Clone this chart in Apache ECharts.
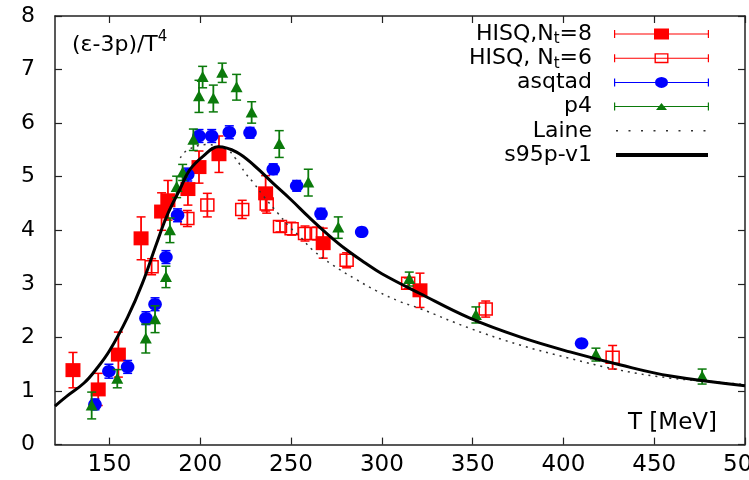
<!DOCTYPE html>
<html><head><meta charset="utf-8">
<script src="https://cdn.jsdelivr.net/npm/echarts@6/dist/echarts.min.js"></script>
<style>html,body{margin:0;padding:0;background:#fff}#c{width:749px;height:480px}</style>
</head><body><div id="c"></div>
<script>
// ---- data (T [MeV], value, error) ----
const xTicks = [150, 200, 250, 300, 350, 400, 450, 500];
const yTicks = [0, 1, 2, 3, 4, 5, 6, 7, 8];

const hisq8 = [[129.9,1.39,0.33],[143.8,1.03,0.3],[154.9,1.68,0.42],[167.4,3.85,0.4],[178.7,4.35,0.35],[182.2,4.56,0.37],[193.2,4.77,0.3],[199.3,5.18,0.3],[210.3,5.42,0.34],[236,4.69,0.33],[267.7,3.76,0.28],[321,2.88,0.32]];
const hisq6 = [[173.2,3.32,0.15],[192.9,4.22,0.15],[203.9,4.47,0.22],[223.1,4.39,0.17],[236.6,4.49,0.17],[243.9,4.07,0.1],[250.3,4.03,0.12],[257.7,3.94,0.14],[264.1,3.94,0.12],[280.6,3.44,0.14],[314.5,3.01,0.1],[357.2,2.53,0.15],[427.1,1.63,0.22]];
const asqtad = [[142,0.75,0.1],[149.7,1.37,0.13],[160,1.45,0.12],[170.1,2.36,0.12],[175.1,2.62,0.12],[181.1,3.5,0.12],[187.5,4.28,0.12],[193.1,5.04,0.12],[199.3,5.76,0.12],[206.3,5.76,0.12],[216,5.83,0.12],[227.4,5.82,0.1],[240.2,5.14,0.1],[253.1,4.83,0.1],[266.5,4.31,0.1],[288.9,3.97,0.08],[410,1.89,0.05]];
const p4 = [[140.2,0.73,0.25],[154.3,1.23,0.17],[170,1.98,0.27],[175.1,2.34,0.25],[181.1,3.13,0.2],[183.3,4.0,0.23],[187,4.81,0.2],[190.3,5.08,0.15],[196.2,5.69,0.2],[199.3,6.5,0.3],[201.3,6.86,0.2],[207.2,6.46,0.25],[212.1,6.94,0.18],[220,6.67,0.24],[228.3,6.2,0.2],[243.5,5.61,0.25],[259.5,4.89,0.25],[276,4.05,0.2],[315.1,3.09,0.13],[351.8,2.42,0.15],[417.9,1.68,0.12],[476.4,1.27,0.14]];
const laine = [[189,5.35],[193,5.5],[204,5.6],[215,5.5],[219,5.36],[222,5.22],[225,5.06],[229,4.9],[235,4.63],[243,4.31],[249,4.07],[255,3.88],[262,3.63],[273,3.35],[286,3.08],[297,2.87],[310,2.67],[321,2.54],[348.5,2.17],[376,1.86],[403.6,1.61],[431,1.39],[459,1.24],[477,1.19],[500,1.12]];
const s95p = [[120,0.72],[126.4,0.9],[136,1.15],[143,1.42],[150,1.75],[160,2.38],[168,3.0],[176,3.76],[182,4.3],[189,4.78],[194,5.12],[201.5,5.38],[210,5.56],[220,5.46],[230,5.2],[240,4.88],[250,4.57],[260,4.24],[270,3.93],[280,3.65],[290,3.41],[300,3.19],[321,2.82],[348.5,2.36],[376,2.01],[403.6,1.73],[431,1.49],[459,1.28],[500,1.1]];

const seriesNames = ['HISQ,Nt=8', 'HISQ, Nt=6', 'asqtad', 'p4', 'Laine', 's95p-v1'];
const legendLabels = {
  'HISQ,Nt=8': 'HISQ,N{sub|t}=8',
  'HISQ, Nt=6': 'HISQ, N{sub|t}=6'
};

const FONT = 'DejaVu Sans';
const RED = '#ff0000', BLUE = '#0000ff', GREEN = '#0b7a0b';

function errRender(shape) {
  return function (params, api) {
    const x = api.value(0), y = api.value(1), e = api.value(2);
    const c = api.coord([x, y]);
    const t = api.coord([x, y + e]);
    const b = api.coord([x, y - e]);
    const color = api.visual('color');
    const cap = 4.5;
    const ch = [
      {type: 'line', shape: {x1: c[0], y1: t[1], x2: c[0], y2: b[1]}, style: {stroke: color, lineWidth: 1.8}},
      {type: 'line', shape: {x1: c[0] - cap, y1: t[1], x2: c[0] + cap, y2: t[1]}, style: {stroke: color, lineWidth: 1.5}},
      {type: 'line', shape: {x1: c[0] - cap, y1: b[1], x2: c[0] + cap, y2: b[1]}, style: {stroke: color, lineWidth: 1.5}}
    ];
    if (shape === 'fsq') {
      ch.push({type: 'rect', shape: {x: c[0] - 7.5, y: c[1] - 7, width: 15, height: 14}, style: {fill: color}});
    } else if (shape === 'osq') {
      ch.push({type: 'rect', shape: {x: c[0] - 6.5, y: c[1] - 6, width: 13, height: 12}, style: {fill: 'none', stroke: color, lineWidth: 1.5}});
    } else if (shape === 'circ') {
      ch.push({type: 'ellipse', shape: {cx: c[0], cy: c[1], rx: 6.8, ry: 6.2}, style: {fill: color}});
    } else if (shape === 'tri') {
      ch.push({type: 'polygon', shape: {points: [[c[0] - 6, c[1] + 5], [c[0], c[1] - 6], [c[0] + 6, c[1] + 5]]}, style: {fill: color}});
    }
    return {type: 'group', children: ch};
  };
}

const corners = 'M0 0L0.01 0L0 0.01Z M95 16L94.99 16L95 15.99Z ';
const bar = 'M0 7.5L95 7.5L95 8.5L0 8.5Z M0 4L1.2 4L1.2 12L0 12Z M93.8 4L95 4L95 12L93.8 12Z ';
const iconFSq = 'path://' + corners + bar + 'M40 2.5L55 2.5L55 13.5L40 13.5Z';
const iconOSq = 'path://' + corners + bar + 'M40.5 3L54.5 3L54.5 13L40.5 13Z M41.9 4.4L41.9 11.6L53.1 11.6L53.1 4.4Z';
const iconCirc = 'path://' + corners + bar + 'M54 8A6.5 5.5 0 1 1 41 8A6.5 5.5 0 1 1 54 8Z';
const iconTri = 'path://' + corners + bar + 'M42 11.5L47.5 4.5L53 11.5Z';
let dots = '';
for (let i = 0; i < 8; i++) { const x0 = 2 + i * 12.5; dots += 'M' + x0 + ' 7.2L' + (x0 + 2) + ' 7.2L' + (x0 + 2) + ' 8.8L' + x0 + ' 8.8Z '; }
const iconDots = 'path://' + corners + dots;
const iconThick = 'path://' + corners + 'M2 6L94 6L94 10L2 10Z';

const axisLineStyle = {color: '#222', width: 1.5};
const tickStyle = {color: '#222', width: 1.2};

const chart = echarts.init(document.getElementById('c'), null, {renderer: 'canvas'});
chart.setOption({
  animation: false,
  backgroundColor: '#fff',
  grid: {left: 55, right: 4, top: 16, bottom: 35.4, containLabel: false, outerBoundsMode: 'none'},
  legend: {
    orient: 'vertical', right: 40, top: 21, padding: 0, align: 'right',
    itemWidth: 95, itemHeight: 16, itemGap: -1.8, selectedMode: false,
    data: [
      {name: seriesNames[0], icon: iconFSq},
      {name: seriesNames[1], icon: iconOSq},
      {name: seriesNames[2], icon: iconCirc},
      {name: seriesNames[3], icon: iconTri},
      {name: seriesNames[4], icon: iconDots},
      {name: seriesNames[5], icon: iconThick}
    ],
    formatter: function (n) { return legendLabels[n] || n; },
    textStyle: {
      fontFamily: FONT, fontSize: 22, color: '#000', lineHeight: 26, padding: [0, 17, 0, 0],
      rich: {sub: {fontFamily: FONT, fontSize: 15, color: '#000', verticalAlign: 'bottom', lineHeight: 26}}
    }
  },
  xAxis: [{
    type: 'value', min: 120, max: 500, position: 'bottom',
    axisLine: {show: true, onZero: false, lineStyle: axisLineStyle},
    axisTick: {show: true, inside: true, length: 7, customValues: xTicks, lineStyle: tickStyle},
    axisLabel: {customValues: xTicks, fontFamily: FONT, fontSize: 23, color: '#000', margin: 9},
    splitLine: {show: false},
    name: 'T [MeV]', nameLocation: 'end', nameGap: -28,
    nameTextStyle: {fontFamily: FONT, fontSize: 23, color: '#000', align: 'right', verticalAlign: 'bottom', padding: [0, 0, 10, 0]}
  }, {
    type: 'value', min: 120, max: 500, position: 'top',
    axisLine: {show: true, onZero: false, lineStyle: axisLineStyle},
    axisTick: {show: true, inside: true, length: 7, customValues: xTicks, lineStyle: tickStyle},
    axisLabel: {show: false}, splitLine: {show: false}
  }],
  yAxis: [{
    type: 'value', min: 0, max: 8, interval: 1, position: 'left',
    axisLine: {show: true, onZero: false, lineStyle: axisLineStyle},
    axisTick: {show: true, inside: true, length: 7, customValues: yTicks, lineStyle: tickStyle},
    axisLabel: {customValues: yTicks, fontFamily: FONT, fontSize: 22, color: '#000', margin: 20},
    splitLine: {show: false},
    name: '(ε-3p)/T{sup|4}', nameLocation: 'end', nameGap: -29,
    nameTextStyle: {
      fontFamily: FONT, fontSize: 22, color: '#000', align: 'left', verticalAlign: 'middle',
      lineHeight: 30, padding: [0, 0, 0, 17],
      rich: {sup: {fontFamily: FONT, fontSize: 15, color: '#000', verticalAlign: 'top', lineHeight: 30}}
    }
  }, {
    type: 'value', min: 0, max: 8, interval: 1, position: 'right',
    axisLine: {show: true, onZero: false, lineStyle: axisLineStyle},
    axisTick: {show: true, inside: true, length: 7, customValues: yTicks, lineStyle: tickStyle},
    axisLabel: {show: false}, splitLine: {show: false}
  }],
  series: [
    {name: seriesNames[0], type: 'custom', renderItem: errRender('fsq'), data: hisq8, encode: {x: 0, y: 1}, itemStyle: {color: RED}, z: 2},
    {name: seriesNames[1], type: 'custom', renderItem: errRender('osq'), data: hisq6, encode: {x: 0, y: 1}, itemStyle: {color: RED}, z: 2},
    {name: seriesNames[2], type: 'custom', renderItem: errRender('circ'), data: asqtad, encode: {x: 0, y: 1}, itemStyle: {color: BLUE}, z: 2},
    {name: seriesNames[3], type: 'custom', renderItem: errRender('tri'), data: p4, encode: {x: 0, y: 1}, itemStyle: {color: GREEN}, z: 2},
    {name: seriesNames[4], type: 'line', data: laine, smooth: 0.4, symbol: 'none', z: 3,
     itemStyle: {color: '#333'}, lineStyle: {color: '#333', width: 1.5, type: [2, 5]}},
    {name: seriesNames[5], type: 'line', data: s95p, smooth: 0.4, symbol: 'none', z: 4,
     itemStyle: {color: '#000'}, lineStyle: {color: '#000', width: 3}}
  ]
});
</script></body></html>
